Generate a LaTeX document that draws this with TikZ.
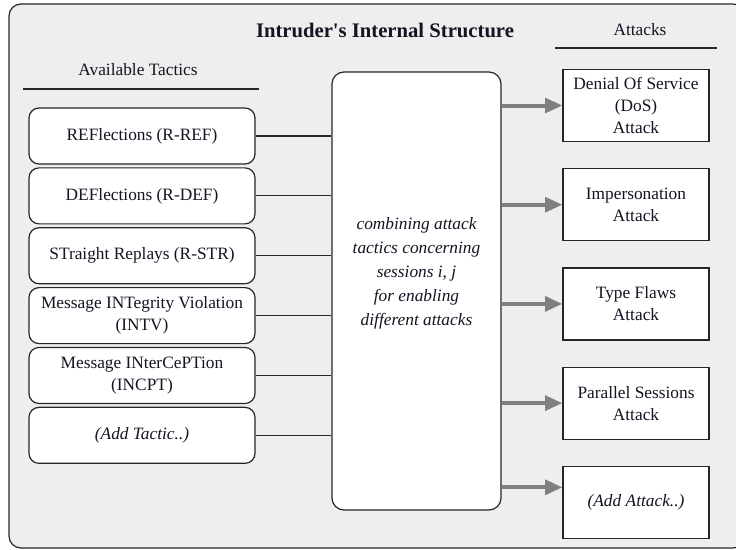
\documentclass[tikz,border=0pt]{standalone}
\usepackage{fontspec}
\setmainfont{Liberation Serif}
\usepackage{tikz}
\usetikzlibrary{arrows.meta,positioning,calc}
\definecolor{panelgray}{RGB}{238,238,238}
\definecolor{arrowgray}{RGB}{128,128,128}
\definecolor{inkdark}{RGB}{20,20,35}
\tikzset{
  basebox/.style={rectangle,draw=black!85,fill=white,align=center,line width=0.9pt,
    text=inkdark,font=\fontsize{13}{16.5}\selectfont},
  tacticnode/.style={basebox,rounded corners=7.5pt,minimum width=169.5pt,minimum height=42pt,inner sep=1pt},
  attacknode/.style={basebox,minimum width=109.5pt,minimum height=54pt,inner sep=1pt},
  mixnode/.style={basebox,rounded corners=9pt,minimum width=126.75pt,minimum height=328.5pt},
  headnode/.style={text=inkdark,font=\fontsize{13}{15}\selectfont},
  tline/.style={line width=0.8pt,color=black!85},
  grayarr/.style={-{Triangle[length=13pt,width=11pt]},line width=3pt,color=arrowgray}
}
\begin{document}
\begin{tikzpicture}[x=0.75pt,y=-0.75pt,node distance=2pt and 1cm]
  \useasboundingbox (0,0) rectangle (736,550);
  % outer panel
  \draw[rounded corners=9pt,fill=panelgray,line width=0.9pt,draw=black!85] (9,4) rectangle (745,548);
  \node[text=inkdark,font=\fontsize{15.5}{18}\selectfont\bfseries] (title) at (385,30) {Intruder\textquotesingle s Internal Structure};
  % column headings
  \node[headnode] (tachead) at (138,70) {Available Tactics};
  \node[headnode] (atthead) at (640,30) {Attacks};
  \draw[tline] (23,89) -- (259,89);
  \draw[tline] (555,48) -- (717,48);
  % tactics
  \node[tacticnode] (t1) at (142,136) {REFlections (R-REF)};
  \node[tacticnode,below=of t1] (t2) {DEFlections (R-DEF)};
  \node[tacticnode,below=of t2] (t3) {STraight Replays (R-STR)};
  \node[tacticnode,below=of t3] (t4) {Message INTegrity Violation\\(INTV)};
  \node[tacticnode,below=of t4] (t5) {Message INterCePTion\\(INCPT)};
  \node[tacticnode,below=of t5] (t6) {\textit{(Add Tactic..)}};
  % combining block
  \node[mixnode] (mix) at (416.5,291) {};
  \node[text=inkdark,align=center,font=\fontsize{13}{18}\selectfont\itshape] (mixtext) at (416.5,273)
    {combining attack\\tactics concerning\\sessions i, j\\for enabling\\different attacks};
  % attacks
  \node[attacknode] (a1) at (636,105.5) {Denial Of Service\\(DoS)\\Attack};
  \node[attacknode,below=19.5pt of a1] (a2) {Impersonation\\Attack};
  \node[attacknode,below=19.5pt of a2] (a3) {Type Flaws\\Attack};
  \node[attacknode,below=19.5pt of a3] (a4) {Parallel Sessions\\Attack};
  \node[attacknode,below=19.5pt of a4] (a5) {\textit{(Add Attack..)}};
  \coordinate (a5in) at ([yshift=11.25pt]a5.west);
  \foreach \t in {t1,t2,t3,t4,t5,t6} \draw[tline] (\t.east) -- (mix.west |- \t.east);
  \foreach \a in {a1,a2,a3,a4} \draw[grayarr] (mix.east |- \a.west) -- (\a.west);
  \draw[grayarr] (mix.east |- a5in) -- (a5in);
\end{tikzpicture}
\end{document}
